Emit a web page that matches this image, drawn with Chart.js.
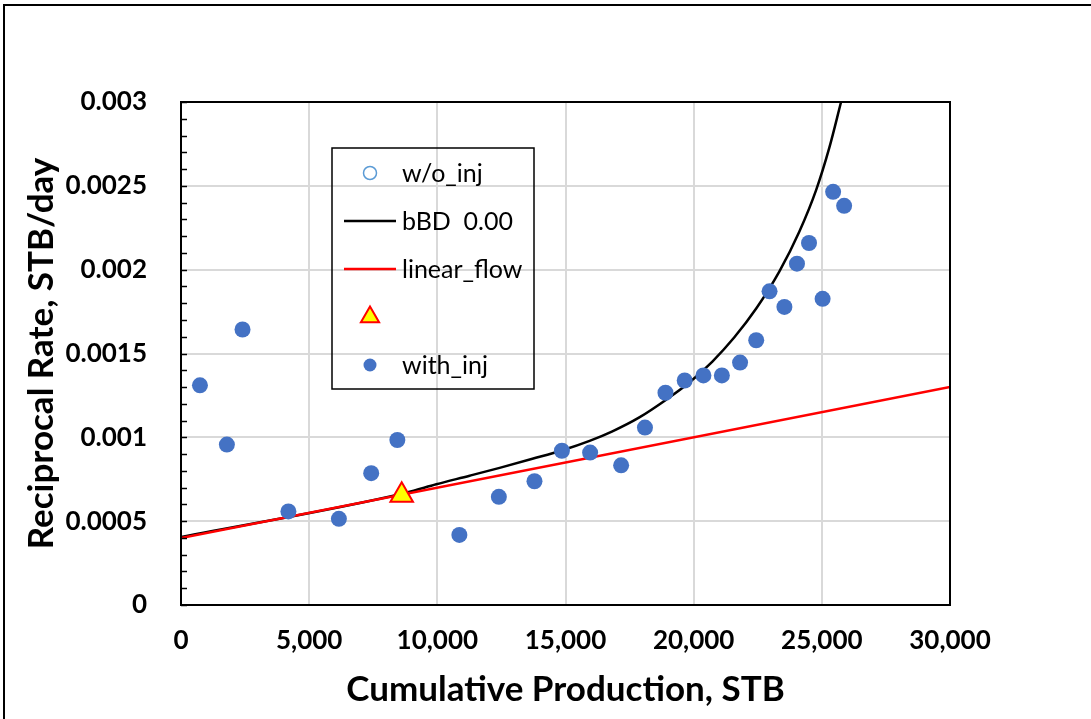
<!DOCTYPE html>
<html>
<head>
<meta charset="utf-8">
<script src="https://cdn.jsdelivr.net/npm/chart.js@4.4.1/dist/chart.umd.min.js"></script>
<style>
  html, body { margin: 0; padding: 0; background: #fff; overflow: hidden; }
  #wrap { position: relative; width: 1091px; height: 719px; overflow: hidden; }
  #frame { position: absolute; left: 3px; top: 4px; width: 1100px; height: 730px;
           border-top: 2px solid #000; border-left: 2px solid #000; pointer-events: none; }
</style>
</head>
<body>
<div id="wrap">
  <canvas id="chart" width="1091" height="719"></canvas>
  <div id="frame"></div>
</div>
<script>
// with_inj measurements
const withInjX = [740, 1790, 2400, 4190, 6160, 7420, 8440, 10860, 12400, 13790, 14860, 15960, 17170,
                  18100, 18900, 19650, 20380, 21100, 21810, 22440, 22960, 23540, 24030, 24500, 25030, 25440, 25870];
const withInjY = [0.00131, 0.000957, 0.001643, 0.000558, 0.000514, 0.000786, 0.000984, 0.000418, 0.000645,
                  0.000738, 0.00092, 0.000909, 0.000833, 0.001058, 0.001266, 0.001339, 0.001369, 0.001369,
                  0.001446, 0.001579, 0.001871, 0.001778, 0.002036, 0.002159, 0.001826, 0.002464, 0.002381];

// bBD 0.00 curve
const bbdX = [0, 8790, 9960, 11260, 12430, 13710, 14880, 15940, 16830, 17880, 18940, 19830, 20730,
              21580, 22440, 23340, 24120, 24780, 25290, 25750];
const bbdY = [0.000405, 0.00067, 0.00072, 0.000771, 0.000818, 0.000872, 0.000923, 0.000979, 0.001036,
              0.001119, 0.001226, 0.001327, 0.001452, 0.001595, 0.001768, 0.001988, 0.002226, 0.002476,
              0.002726, 0.003];

// linear_flow line
const linX = [0, 30000];
const linY = [0.0004, 0.0013];

// triangle marker
const triX = [8610];
const triY = [0.000655];

const xTickLabels = ['0', '5,000', '10,000', '15,000', '20,000', '25,000', '30,000'];
const yTickLabels = ['0', '0.0005', '0.001', '0.0015', '0.002', '0.0025', '0.003'];

function toPoints(xs, ys) {
    return xs.map((x, i) => ({ x: x, y: ys[i] }));
}

Chart.defaults.font.family = 'Lato';
Chart.defaults.color = '#000';

// black frame around plot area + inside minor ticks on the y axis
const plotFrame = {
    id: 'plotFrame',
    afterDatasetsDraw(chart) {
        const ctx = chart.ctx;
        const a = chart.chartArea;
        const y = chart.scales.y;
        ctx.save();
        ctx.strokeStyle = '#000';
        ctx.lineWidth = 1.5;
        for (let i = 0; i <= 30; i++) {
            const py = Math.round(y.getPixelForValue(i * 0.0001)) + 0.5;
            ctx.beginPath();
            ctx.moveTo(a.left, py);
            ctx.lineTo(a.left + 6, py);
            ctx.stroke();
        }
        ctx.lineWidth = 2;
        ctx.strokeRect(a.left, a.top, a.right - a.left, a.bottom - a.top);
        ctx.restore();
    }
};

// legend box drawn inside the plot
const legendBox = {
    id: 'legendBox',
    afterDraw(chart) {
        const ctx = chart.ctx;
        const a = chart.chartArea;
        const x0 = a.left + 151, y0 = a.top + 46, w = 202, h = 241;
        ctx.save();
        ctx.strokeStyle = '#000';
        ctx.lineWidth = 1.5;
        ctx.strokeRect(x0, y0, w, h);
        ctx.font = '25px Lato';
        ctx.textBaseline = 'middle';
        ctx.fillStyle = '#000';
        chart.data.datasets.forEach((ds, i) => {
            const cy = y0 + 25 + i * 48;
            const cx = x0 + 38;
            if (ds.showLine) {
                ctx.strokeStyle = ds.borderColor;
                ctx.lineWidth = ds.borderWidth;
                ctx.beginPath();
                ctx.moveTo(x0 + 12, cy);
                ctx.lineTo(x0 + 64, cy);
                ctx.stroke();
            } else if (ds.pointStyle === 'triangle') {
                const r = 10.5;
                ctx.beginPath();
                ctx.moveTo(cx, cy - r);
                ctx.lineTo(cx + r * 0.866, cy + r / 2);
                ctx.lineTo(cx - r * 0.866, cy + r / 2);
                ctx.closePath();
                ctx.fillStyle = ds.backgroundColor;
                ctx.fill();
                ctx.strokeStyle = ds.borderColor;
                ctx.lineWidth = 2;
                ctx.stroke();
            } else {
                ctx.beginPath();
                ctx.arc(cx, cy, 6.5, 0, Math.PI * 2);
                ctx.fillStyle = ds.backgroundColor;
                ctx.fill();
                if (ds.borderWidth) {
                    ctx.strokeStyle = ds.borderColor;
                    ctx.lineWidth = ds.borderWidth;
                    ctx.stroke();
                }
            }
            ctx.fillStyle = '#000';
            ctx.fillText(ds.label, x0 + 70, cy + 1);
        });
        ctx.restore();
    }
};

new Chart(document.getElementById('chart'), {
    type: 'scatter',
    data: {
        datasets: [
            {
                label: 'w/o_inj',
                data: [],
                pointRadius: 6.5,
                backgroundColor: '#ffffff',
                borderColor: '#5B9BD5',
                borderWidth: 1.5,
                order: 4
            },
            {
                label: 'bBD  0.00',
                data: toPoints(bbdX, bbdY),
                showLine: true,
                cubicInterpolationMode: 'monotone',
                borderColor: '#000000',
                borderWidth: 2.5,
                pointRadius: 0,
                order: 3
            },
            {
                label: 'linear_flow',
                data: toPoints(linX, linY),
                showLine: true,
                borderColor: '#FF0000',
                borderWidth: 2.5,
                pointRadius: 0,
                order: 2
            },
            {
                label: '',
                data: toPoints(triX, triY),
                pointStyle: 'triangle',
                pointRadius: 13,
                backgroundColor: '#FFFF00',
                borderColor: '#FF0000',
                borderWidth: 2,
                order: 1
            },
            {
                label: 'with_inj',
                data: toPoints(withInjX, withInjY),
                pointRadius: 8,
                backgroundColor: '#4472C4',
                borderWidth: 0,
                order: 0
            }
        ]
    },
    options: {
        responsive: false,
        animation: false,
        devicePixelRatio: 1,
        layout: { padding: { top: 102, right: 141, left: 0, bottom: 0 } },
        plugins: {
            legend: { display: false },
            tooltip: { enabled: false }
        },
        scales: {
            x: {
                type: 'linear',
                min: 0,
                max: 30000,
                afterFit: function(scale) { scale.height = 114; },
                ticks: {
                    stepSize: 5000,
                    padding: 20,
                    font: { size: 26, weight: 'bold' },
                    callback: function(value, index) { return xTickLabels[index]; }
                },
                grid: { color: '#D9D9D9', lineWidth: 2, drawTicks: false },
                border: { color: '#000', width: 2 },
                title: {
                    display: true,
                    text: 'Cumulative Production, STB',
                    font: { size: 35, weight: 'bold' },
                    padding: 8
                }
            },
            y: {
                type: 'linear',
                min: 0,
                max: 0.003,
                afterFit: function(scale) { scale.width = 181; },
                ticks: {
                    stepSize: 0.0005,
                    padding: 34,
                    font: { size: 26, weight: 'bold' },
                    callback: function(value, index) { return yTickLabels[index]; }
                },
                grid: { color: '#D9D9D9', lineWidth: 2, drawTicks: false },
                border: { color: '#000', width: 2 },
                title: {
                    display: true,
                    text: 'Reciprocal Rate, STB/day',
                    font: { size: 35, weight: 'bold' },
                    padding: 21
                }
            }
        }
    },
    plugins: [plotFrame, legendBox]
});
</script>
</body>
</html>
